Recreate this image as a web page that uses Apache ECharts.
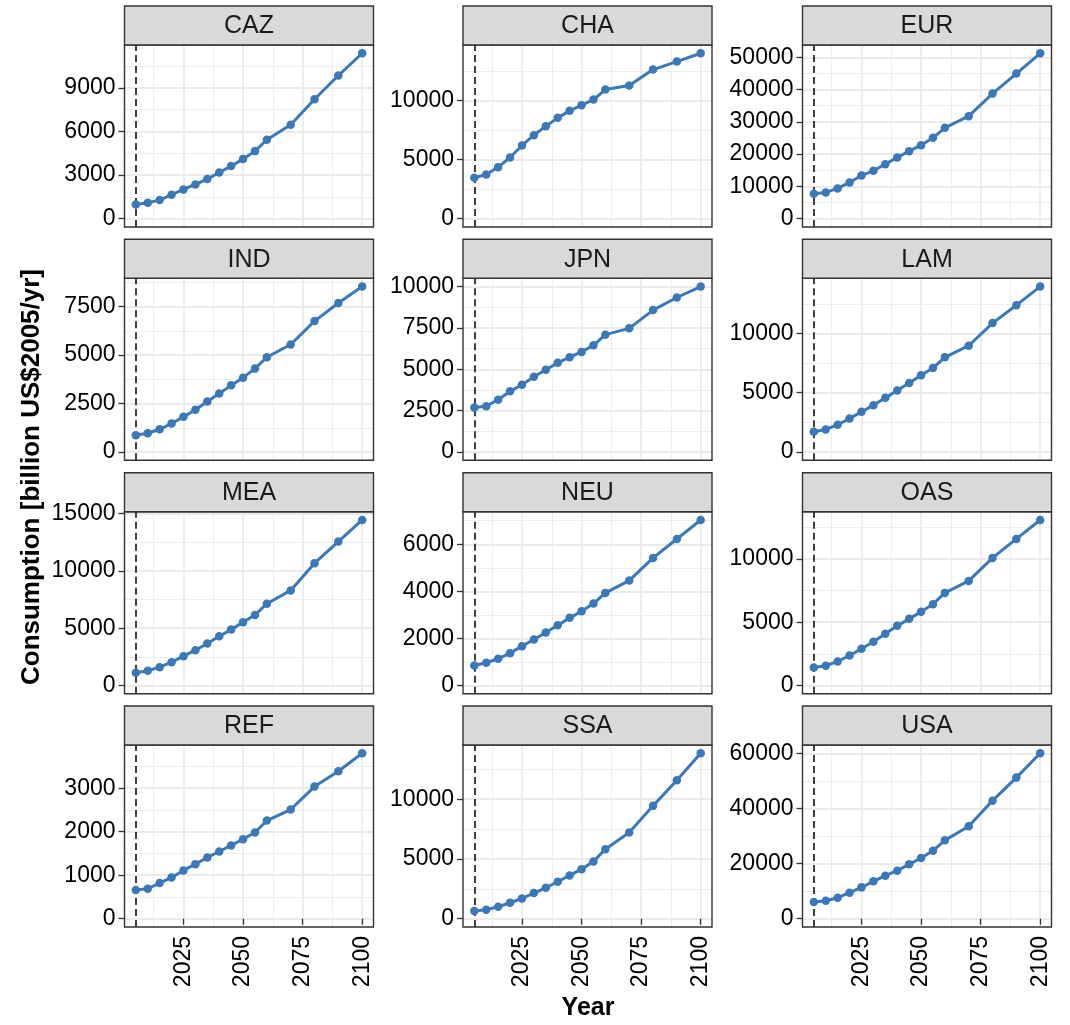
<!DOCTYPE html>
<html><head><meta charset="utf-8">
<script src="https://cdn.jsdelivr.net/npm/echarts@6/dist/echarts.min.js"></script>
<style>html,body{margin:0;padding:0;background:#fff}#c{width:1070px;height:1025px}</style>
</head><body><div id="c"></div>
<script>
const years = [2005,2010,2015,2020,2025,2030,2035,2040,2045,2050,2055,2060,2070,2080,2090,2100];
const regions = ['CAZ','CHA','EUR','IND','JPN','LAM','MEA','NEU','OAS','REF','SSA','USA'];
const CAZ = [985,1100,1280,1650,2015,2360,2725,3180,3620,4100,4650,5430,6460,8220,9850,11380];
const CHA = [3465,3747,4366,5183,6197,7070,7831,8535,9127,9606,10085,10930,11268,12620,13296,14000];
const EUR = [7732,8145,9381,11237,13402,14845,16907,18969,20928,22784,25052,28145,31753,38764,44951,51240];
const IND = [864,968,1175,1469,1814,2177,2609,3024,3439,3836,4303,4890,5547,6756,7690,8536];
const JPN = [2685,2766,3166,3667,4068,4549,4970,5391,5731,6052,6453,7094,7475,8577,9339,10000];
const LAM = [1709,1905,2297,2829,3389,3949,4566,5182,5826,6470,7087,7983,8963,10868,12380,13949];
const MEA = [1103,1277,1596,2031,2554,3076,3657,4295,4875,5514,6152,7139,8300,10680,12566,14452];
const NEU = [849,962,1132,1373,1670,1953,2250,2561,2872,3155,3481,3934,4457,5419,6226,7033];
const OAS = [1421,1553,1895,2368,2895,3447,4079,4711,5263,5816,6421,7316,8263,10079,11579,13079];
const REF = [658,689,819,949,1110,1255,1408,1546,1684,1829,1982,2257,2510,3038,3390,3803];
const SSA = [641,752,1003,1337,1699,2145,2591,3092,3622,4151,4792,5823,7216,9445,11590,13847];
const USA = [6050,6534,7623,9438,11374,13552,15609,17424,19723,22022,24684,28435,33517,42834,51183,60016];
const values = [CAZ,CHA,EUR,IND,JPN,LAM,MEA,NEU,OAS,REF,SSA,USA];
const yIntervals = [3000,5000,10000,2500,2500,5000,5000,2000,5000,1000,5000,20000];
const xTickLabels = [2025,2050,2075,2100];
const xMinorBreaks = [2012.5,2037.5,2062.5,2087.5];
const refYear = 2005;
const xTitle = 'Year';
const yTitle = 'Consumption [billion US$2005/yr]';

const FONT = 'Liberation Sans, Arial, sans-serif';
const LINE_COLOR = '#3b78b8';
const colLeft = [124.5, 463, 802.5];
const panelW = 249;
const rowTop = [45, 278.3, 511.7, 745];
const panelH = 182;
const stripH = 39;
const xMin = 2000.25, xMax = 2104.75;

const grids = [], xAxes = [], yAxes = [], series = [], graphics = [];
regions.forEach((name, i) => {
  const r = Math.floor(i / 3), c = i % 3;
  const left = colLeft[c], top = rowTop[r];
  grids.push({left: left, top: top, width: panelW, height: panelH, show: true,
    backgroundColor: '#fff', borderWidth: 0, containLabel: false});
  const vals = values[i];
  const mx = Math.max(...vals);
  const yMax = mx * 1.05, yMin = -mx * 0.05;
  const iv = yIntervals[i];
  const major = [], minor = [];
  for (let v = 0; v <= yMax; v += iv) major.push(v);
  for (let v = iv / 2; v <= yMax; v += iv) minor.push(v);
  const bottomRow = r === 3;
  xAxes.push({type: 'value', gridIndex: i, min: xMin, max: xMax, position: 'bottom',
    axisLine: {show: false},
    axisTick: {show: bottomRow, length: 6, customValues: xTickLabels, lineStyle: {color: '#333', width: 1.3}},
    axisLabel: {show: bottomRow, customValues: xTickLabels, rotate: 90, margin: 9, color: '#000',
      fontSize: 23, fontFamily: FONT, formatter: v => String(v)},
    splitLine: {show: true, lineStyle: {color: '#ebebeb', width: 1.8}}
  });
  xAxes.push({type: 'value', gridIndex: i, min: xMin, max: xMax, position: 'top',
    axisLine: {show: false}, axisTick: {show: false, customValues: xMinorBreaks},
    axisLabel: {show: false, customValues: xMinorBreaks},
    splitLine: {show: true, lineStyle: {color: '#ebebeb', width: 0.9}}
  });
  yAxes.push({type: 'value', gridIndex: i, min: yMin, max: yMax, position: 'left',
    axisLine: {show: false},
    axisTick: {show: true, length: 6, customValues: major, lineStyle: {color: '#333', width: 1.3}},
    axisLabel: {show: true, customValues: major, margin: 9, color: '#000', fontSize: 23, fontFamily: FONT,
      formatter: v => String(Math.round(v))},
    splitLine: {show: true, lineStyle: {color: '#ebebeb', width: 1.8}}
  });
  yAxes.push({type: 'value', gridIndex: i, min: yMin, max: yMax, position: 'right',
    axisLine: {show: false}, axisTick: {show: false, customValues: minor},
    axisLabel: {show: false, customValues: minor},
    splitLine: {show: true, lineStyle: {color: '#ebebeb', width: 0.9}}
  });
  series.push({type: 'line', name: name, xAxisIndex: 2 * i, yAxisIndex: 2 * i,
    data: years.map((y, k) => [y, vals[k]]),
    symbol: 'circle', symbolSize: 8.5, color: LINE_COLOR,
    lineStyle: {width: 3, color: LINE_COLOR}, itemStyle: {color: LINE_COLOR},
    z: 3,
    markLine: {silent: true, symbol: ['none', 'none'], label: {show: false},
      lineStyle: {color: '#000', type: [7, 4], width: 1.5},
      data: [{xAxis: refYear}], z: 2}
  });
  graphics.push({type: 'rect', shape: {x: left, y: top, width: panelW, height: panelH},
    style: {fill: 'none', stroke: '#333', lineWidth: 1.4}, z: 100, silent: true});
  graphics.push({type: 'rect', shape: {x: left, y: top - stripH, width: panelW, height: stripH},
    style: {fill: '#d9d9d9', stroke: '#333', lineWidth: 1.4}, z: 100, silent: true});
  graphics.push({type: 'text', x: left + panelW / 2, y: top - stripH / 2 + 1,
    style: {text: name, fill: '#1a1a1a', font: '25px ' + FONT, textAlign: 'center', textVerticalAlign: 'middle'},
    z: 101, silent: true});
});
graphics.push({type: 'text', x: 32, y: 477, rotation: Math.PI / 2,
  style: {text: yTitle, fill: '#000', font: 'bold 26px ' + FONT, textAlign: 'center', textVerticalAlign: 'middle'},
  z: 101, silent: true});
graphics.push({type: 'text', x: 588, y: 1008,
  style: {text: xTitle, fill: '#000', font: 'bold 25px ' + FONT, textAlign: 'center', textVerticalAlign: 'middle'},
  z: 101, silent: true});

const chart = echarts.init(document.getElementById('c'), null, {renderer: 'canvas'});
chart.setOption({animation: false, backgroundColor: '#fff',
  grid: grids, xAxis: xAxes, yAxis: yAxes, series: series, graphic: graphics});
</script>
</body></html>
